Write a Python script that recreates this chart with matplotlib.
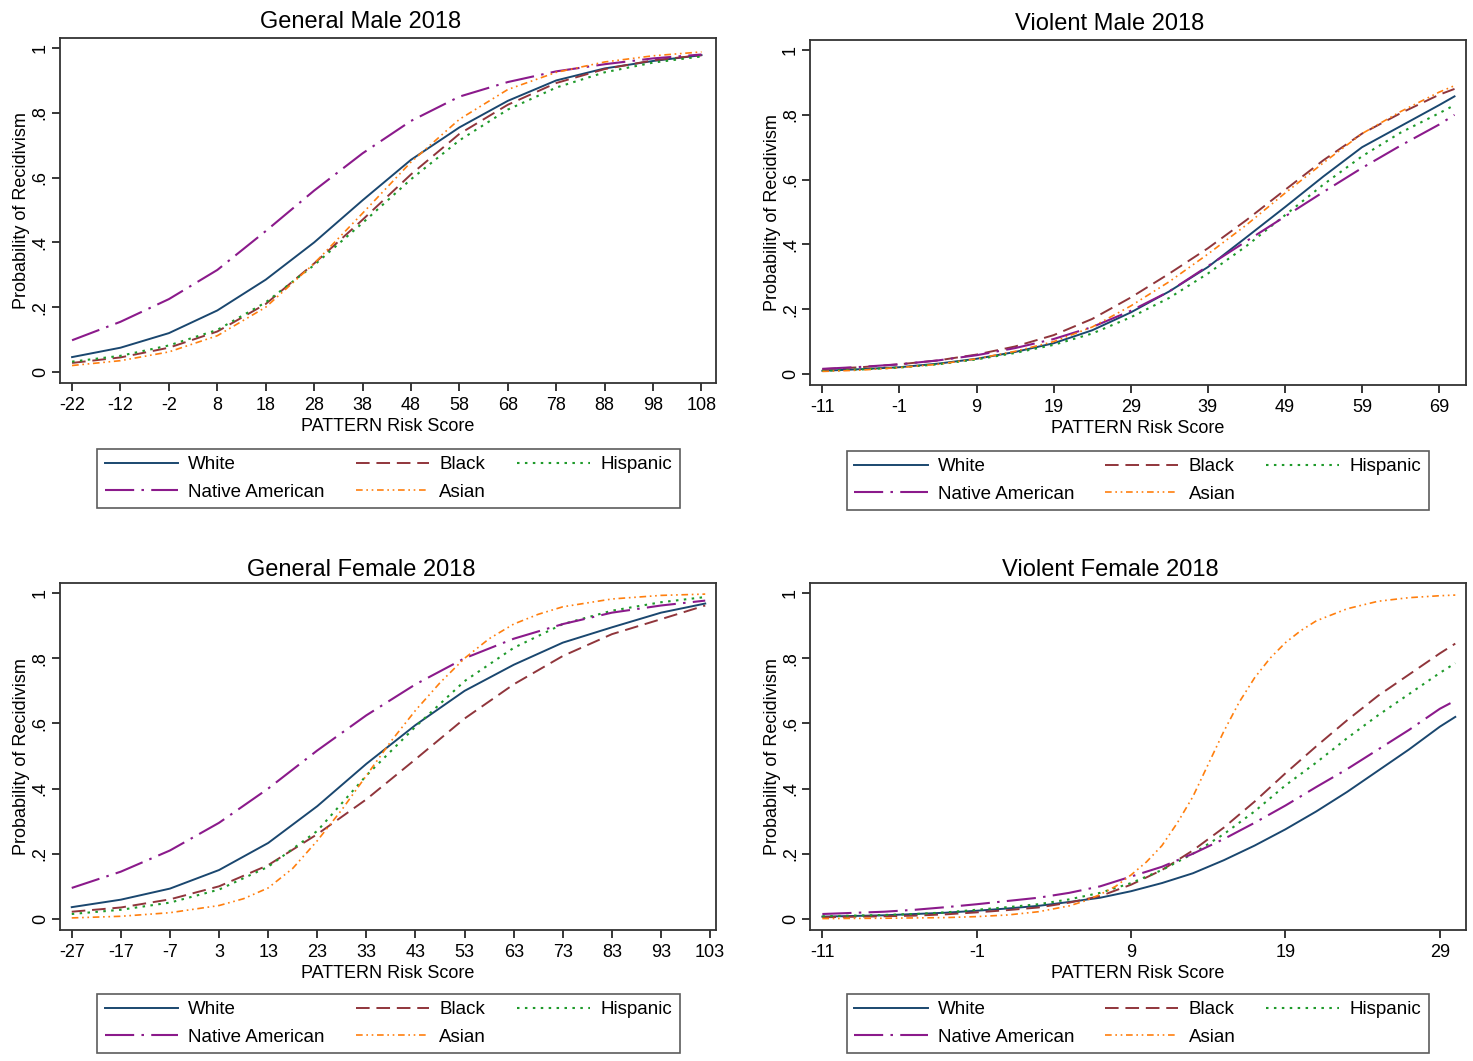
import matplotlib
matplotlib.use("Agg")
import matplotlib.pyplot as plt

plt.rcParams["font.family"] = ["Liberation Sans", "DejaVu Sans"]
plt.rcParams["axes.unicode_minus"] = False

# ---- data ----
groups = ["White", "Black", "Hispanic", "Native American", "Asian"]

# General Male 2018
gm_x = [-22, -12, -2, 8, 18, 28, 38, 48, 58, 68, 78, 88, 98, 108]
gm_white = [.046, .075, .12, .19, .285, .40, .53, .655, .755, .837, .90, .937, .96, .978]
gm_black = [.028, .045, .075, .125, .21, .335, .47, .61, .735, .825, .892, .935, .962, .978]
gm_hisp = [.032, .05, .082, .13, .215, .33, .46, .595, .715, .81, .878, .925, .955, .974]
gm_native = [.098, .155, .225, .315, .435, .56, .675, .775, .85, .895, .928, .95, .968, .98]
gm_asian = [.02, .035, .062, .112, .20, .335, .49, .648, .78, .872, .925, .957, .976, .988]
gm_ticks = [-22, -12, -2, 8, 18, 28, 38, 48, 58, 68, 78, 88, 98, 108]

# Violent Male 2018
vm_x = [-11, -6, -1, 4, 9, 14, 19, 24, 29, 34, 39, 44, 49, 54, 59, 64, 69, 71]
vm_white = [.010, .015, .021, .032, .047, .068, .095, .135, .19, .255, .33, .422, .515, .61, .70, .765, .83, .857]
vm_black = [.015, .021, .03, .042, .06, .085, .12, .17, .236, .31, .388, .475, .568, .66, .742, .805, .862, .88]
vm_hisp = [.010, .014, .02, .03, .045, .065, .09, .125, .175, .235, .31, .395, .49, .585, .672, .745, .805, .83]
vm_native = [.016, .022, .03, .042, .058, .08, .108, .145, .195, .255, .333, .41, .486, .562, .636, .705, .77, .80]
vm_asian = [.008, .012, .02, .03, .047, .07, .10, .145, .21, .285, .37, .46, .558, .652, .742, .81, .87, .89]
vm_ticks = [-11, -1, 9, 19, 29, 39, 49, 59, 69]

# General Female 2018
gf_x = [-27, -17, -7, 3, 13, 23, 33, 43, 53, 63, 73, 83, 93, 102]
gf_white = [.036, .059, .093, .15, .233, .346, .476, .595, .70, .78, .848, .895, .94, .968]
gf_black = [.022, .035, .06, .10, .165, .26, .367, .49, .615, .72, .807, .874, .92, .962]
gf_hisp = [.015, .028, .05, .09, .16, .27, .44, .59, .73, .832, .905, .946, .972, .988]
gf_native = [.095, .145, .21, .295, .40, .517, .625, .72, .80, .86, .905, .94, .962, .977]
gf_asian_x = [-27, -17, -7, 3, 8, 13, 18, 23, 28, 33, 38, 43, 48, 53, 58, 63, 68, 73, 83, 93, 102]
gf_asian = [.003, .008, .019, .041, .062, .095, .155, .24, .335, .44, .545, .64, .725, .80, .86, .905,
            .935, .958, .982, .993, .997]
gf_ticks = [-27, -17, -7, 3, 13, 23, 33, 43, 53, 63, 73, 83, 93, 103]

# Violent Female 2018
vf_x = [-11, -7, -5, -3, -1, 1, 3, 5, 7, 9, 11, 13, 15, 17, 19, 21, 23, 25, 27, 29, 30]
vf_white = [.007, .011, .015, .019, .025, .032, .04, .052, .065, .085, .11, .14, .18, .225, .275, .33, .39, .455, .52, .59, .62]
vf_black = [.005, .008, .01, .014, .02, .027, .035, .05, .07, .105, .15, .21, .28, .36, .447, .53, .61, .685, .75, .815, .845]
vf_hisp = [.008, .012, .015, .02, .028, .036, .045, .06, .08, .11, .15, .20, .26, .33, .41, .48, .555, .625, .69, .755, .785]
vf_native = [.015, .022, .028, .036, .045, .055, .065, .08, .10, .13, .16, .20, .245, .295, .348, .405, .46, .52, .58, .645, .67]
vf_asian_x = [-11, -7, -3, -1, 1, 3, 5, 6, 7, 8, 9, 10, 11, 12, 13, 14, 15, 16, 17, 18, 19, 20, 21,
              23, 25, 27, 29, 30]
vf_asian = [.001, .002, .004, .007, .012, .022, .04, .055, .075, .10, .135, .175, .225, .295, .375, .475,
            .575, .665, .74, .80, .848, .885, .915, .952, .975, .986, .992, .994]
vf_ticks = [-11, -1, 9, 19, 29]

panels = [
    ("General Male 2018", [gm_x] * 5, [gm_white, gm_black, gm_hisp, gm_native, gm_asian], gm_ticks, (-24.5, 111)),
    ("Violent Male 2018", [vm_x] * 5, [vm_white, vm_black, vm_hisp, vm_native, vm_asian], vm_ticks, (-12.6, 72.5)),
    ("General Female 2018", [gf_x] * 4 + [gf_asian_x], [gf_white, gf_black, gf_hisp, gf_native, gf_asian],
     gf_ticks, (-29.4, 104.2)),
    ("Violent Female 2018", [vf_x] * 4 + [vf_asian_x], [vf_white, vf_black, vf_hisp, vf_native, vf_asian],
     vf_ticks, (-11.8, 30.7)),
]

colors = ["#1a476f", "#90353b", "#1e9a2a", "#8b1a8b", "#ff7f0e"]
dashes = [None, (7, 3.5), (1.2, 2.6), (14, 3.5, 1.2, 3.5), (4, 2.2, 1, 2.2, 1, 2.2)]
widths = [1.4, 1.4, 1.5, 1.5, 1.2]

# axes rectangles in figure fractions, title spots and legend boxes
ax_rects = [
    [0.0407, 0.6390, 0.4454, 0.3252],
    [0.5499, 0.6371, 0.4454, 0.3252],
    [0.0407, 0.1235, 0.4454, 0.3270],
    [0.5499, 0.1235, 0.4454, 0.3270],
]
title_xy = [(0.2451, 0.9792), (0.7536, 0.9774), (0.2451, 0.4628), (0.7536, 0.4628)]
leg_boxes = [
    (0.0659, 0.5206, 0.3957, 0.0566),
    (0.5750, 0.5188, 0.3951, 0.0566),
    (0.0659, 0.0065, 0.3957, 0.0575),
    (0.5750, 0.0065, 0.3951, 0.0575),
]

fig = plt.figure(figsize=(14.73, 10.61), dpi=100)

for (title, xss, series, ticks, xlim), rect, txy, lb in zip(panels, ax_rects, title_xy, leg_boxes):
    ax = fig.add_axes(rect)
    handles = []
    for xs, ys, c, d, w, name in zip(xss, series, colors, dashes, widths, groups):
        ln, = ax.plot(xs, ys, color=c, lw=w, label=name)
        if d is not None:
            ln.set_dashes(d)
        handles.append(ln)

    ax.set_xlim(xlim)
    ax.set_ylim(-0.034, 1.031)
    ax.set_xticks(ticks)
    ax.set_xticklabels([str(t) for t in ticks])
    ax.set_yticks([0, .2, .4, .6, .8, 1])
    ax.set_yticklabels(["0", ".2", ".4", ".6", ".8", "1"], rotation=90, va="center")
    ax.tick_params(axis="both", direction="out", length=6, width=1.1, labelsize=13)
    ax.tick_params(axis="x", pad=4)
    ax.tick_params(axis="y", pad=2)
    for sp in ax.spines.values():
        sp.set_linewidth(1.3)
        sp.set_color("#333333")
    fig.text(txy[0], txy[1], title, fontsize=17, ha="center", va="center")
    ax.set_xlabel("PATTERN Risk Score", fontsize=13, labelpad=3)
    ax.set_ylabel("Probability of Recidivism", fontsize=13, labelpad=1)

    # stata fills the key row by row
    order = [0, 3, 1, 4, 2]
    leg = fig.legend([handles[i] for i in order], [groups[i] for i in order],
                     ncol=3, loc="center", bbox_to_anchor=lb, bbox_transform=fig.transFigure,
                     mode="expand", fontsize=13.5, handlelength=3.9, handletextpad=0.55,
                     labelspacing=0.55, borderaxespad=0, fancybox=False, frameon=True)
    leg.get_frame().set_edgecolor("#333333")
    leg.get_frame().set_linewidth(1.2)

fig.savefig("out.png", dpi=100, facecolor="white")
